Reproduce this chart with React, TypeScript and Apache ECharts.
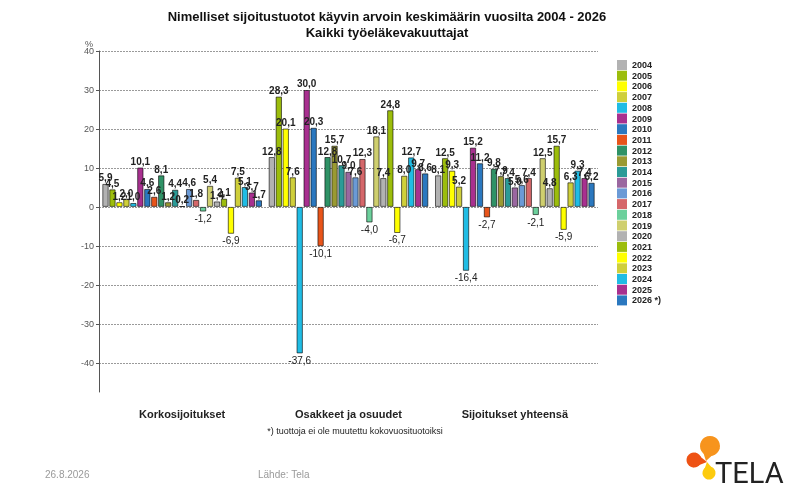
import { useEffect, useRef } from "react";
import * as echarts from "echarts";

const FONT = "Arial, 'Liberation Sans', sans-serif";

const CATEGORIES = ["Korkosijoitukset", "Osakkeet ja osuudet", "Sijoitukset yhteensä"];
const YEARS = [
  "2004", "2005", "2006", "2007", "2008", "2009", "2010", "2011", "2012", "2013", "2014", "2015",
  "2016", "2017", "2018", "2019", "2020", "2021", "2022", "2023", "2024", "2025", "2026 *)",
];
// tuotot % vuosittain, järjestys kuten YEARS
const KORKO = [5.9, 4.5, 1.2, 2.0, 1.0, 10.1, 4.6, 2.6, 8.1, 1.2, 4.4, 0.2, 4.6, 1.8, -1.2, 5.4, 1.4, 2.1, -6.9, 7.5, 5.1, 3.7, 1.7];
const OSAKKEET = [12.8, 28.3, 20.1, 7.6, -37.6, 30.0, 20.3, -10.1, 12.8, 15.7, 10.7, 9.0, 7.6, 12.3, -4.0, 18.1, 7.4, 24.8, -6.7, 8.0, 12.7, 9.7, 8.6];
const YHTEENSA = [8.1, 12.5, 9.3, 5.2, -16.4, 15.2, 11.2, -2.7, 9.8, 7.9, 7.4, 5.0, 5.6, 7.4, -2.1, 12.5, 4.8, 15.7, -5.9, 6.3, 9.3, 7.4, 6.2];
const Y_TICKS = [-40, -30, -20, -10, 0, 10, 20, 30, 40];

const COLORS = [
  "#b2b2b2", "#9cbd0c", "#ffff00", "#cfcf3a", "#20bce4", "#a8308f", "#2b78bf", "#e8541a",
  "#2f9266", "#9a9a32", "#2b9b97", "#9a67a0", "#6b9ad6", "#d5676a", "#6cd09c", "#cfcf6e",
  "#b2b2b2", "#9cbd0c", "#ffff00", "#cfcf3a", "#20bce4", "#a8308f", "#2b78bf",
];

const fmt = (v: number) => v.toFixed(1).replace(".", ",");

// pisara: ympyrä + kärki kohti keskipistettä
function drop(cx: number, cy: number, r: number, tx: number, ty: number, color: string) {
  const dx = tx - cx;
  const dy = ty - cy;
  const len = Math.hypot(dx, dy);
  const px = (-dy / len) * r;
  const py = (dx / len) * r;
  return [
    { type: "circle", shape: { cx, cy, r }, style: { fill: color } },
    {
      type: "polygon",
      shape: { points: [[cx + px, cy + py], [tx, ty], [cx - px, cy - py]] },
      style: { fill: color },
    },
  ];
}

export default function App() {
  const elRef = useRef<HTMLDivElement>(null);

  useEffect(() => {
    const el = elRef.current;
    if (!el) return;
    const chart = echarts.init(el, undefined, { renderer: "svg" });

    const series = YEARS.map((year, i) => ({
      name: year,
      type: "bar",
      barGap: "10%",
      barCategoryGap: "4%",
      itemStyle: { color: COLORS[i], borderColor: "rgba(0,0,0,0.6)", borderWidth: 1 },
      data: [KORKO[i], OSAKKEET[i], YHTEENSA[i]].map((v) => ({
        value: v,
        label:
          v < 0
            ? { position: "bottom", fontWeight: "normal", distance: 2 }
            : { position: "top", fontWeight: "bold", distance: 1 },
      })),
      label: {
        show: true,
        fontFamily: FONT,
        fontSize: 10,
        color: "#222",
        formatter: (p: { value: number }) => fmt(p.value),
      },
    }));

    chart.setOption({
      animation: false,
      textStyle: { fontFamily: FONT },
      title: {
        text: "Nimelliset sijoitustuotot käyvin arvoin keskimäärin vuosilta 2004 - 2026\nKaikki työeläkevakuuttajat",
        left: 382,
        top: 3,
        textAlign: "center",
        textStyle: { fontFamily: FONT, fontSize: 13, fontWeight: "bold", color: "#111", lineHeight: 16 },
      },
      legend: {
        orient: "vertical",
        left: 612,
        top: 55,
        icon: "rect",
        itemWidth: 10,
        itemHeight: 10,
        itemGap: 0.7,
        itemStyle: { borderWidth: 0 },
        textStyle: { fontFamily: FONT, fontSize: 9, fontWeight: "bold", color: "#222", lineHeight: 10 },
        data: YEARS,
      },
      grid: { left: 99, right: 192, top: 51, bottom: 98, containLabel: false },
      xAxis: {
        type: "category",
        data: CATEGORIES,
        axisLine: { show: false, onZero: false },
        axisTick: { show: false },
        axisLabel: { margin: 16, fontFamily: FONT, fontSize: 11, fontWeight: "bold", color: "#222" },
      },
      yAxis: {
        type: "value",
        min: -47.5,
        max: 40,
        axisLine: { show: true, lineStyle: { color: "#555", width: 1 } },
        axisTick: { show: true, length: 3, lineStyle: { color: "#555" }, customValues: Y_TICKS },
        axisLabel: { fontFamily: FONT, fontSize: 9, color: "#555", margin: 5, customValues: Y_TICKS },
        splitLine: { show: true, lineStyle: { color: "#9a9a9a", type: [2, 1], width: 1 } },
      },
      series,
      graphic: [
        { type: "text", left: 85, top: 39, style: { text: "%", fontFamily: FONT, fontSize: 9, fill: "#555" } },
        {
          type: "text",
          x: 355,
          y: 431,
          style: {
            text: "*) tuottoja ei ole muutettu kokovuosituotoiksi",
            fontFamily: FONT,
            fontSize: 9,
            fill: "#222",
            align: "center",
            verticalAlign: "middle",
          },
        },
        {
          type: "text",
          x: 45,
          y: 474,
          style: { text: "26.8.2026", fontFamily: FONT, fontSize: 10, fill: "#9a9a9a", verticalAlign: "middle" },
        },
        {
          type: "text",
          x: 258,
          y: 474,
          style: { text: "Lähde: Tela", fontFamily: FONT, fontSize: 10, fill: "#9a9a9a", verticalAlign: "middle" },
        },
        ...drop(710, 446, 10, 706, 461, "#f7941d"),
        ...drop(694, 460, 7.5, 707, 462, "#ee5214"),
        ...drop(709, 473, 6.5, 707, 462, "#fdcb0e"),
        {
          type: "text",
          x: 715,
          y: 473,
          style: {
            text: "TELA",
            fontFamily: "Roboto, sans-serif",
            fontSize: 29,
            fill: "#222",
            verticalAlign: "middle",
          },
        },
      ],
    });

    return () => chart.dispose();
  }, []);

  return <div ref={elRef} style={{ position: "fixed", left: 0, top: 0, width: 790, height: 490 }} />;
}
